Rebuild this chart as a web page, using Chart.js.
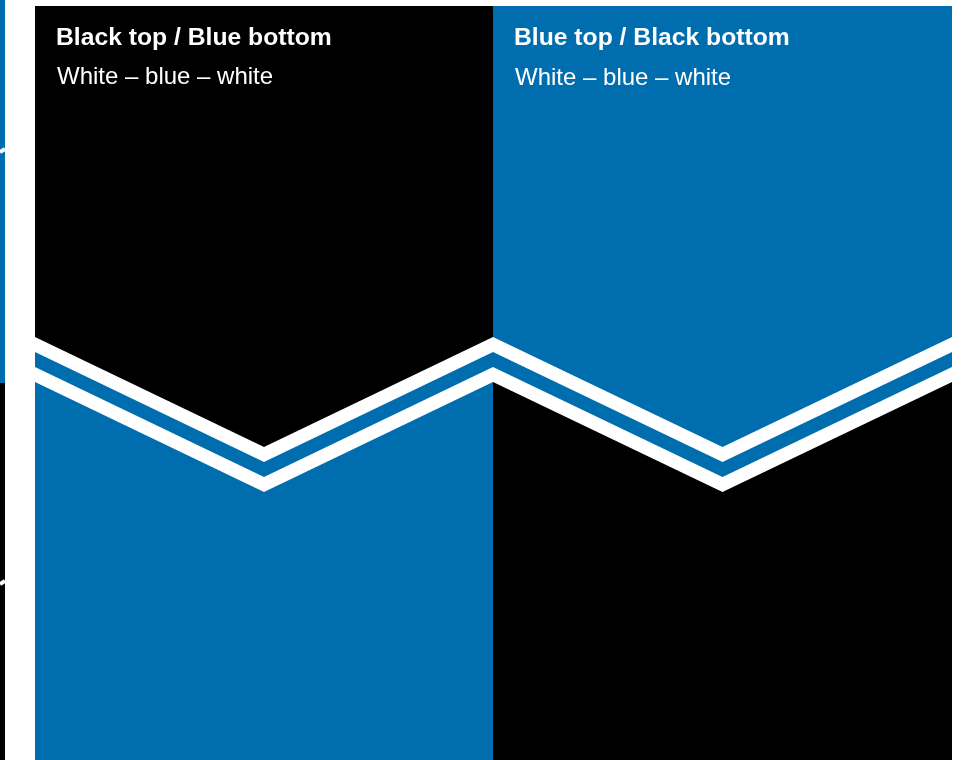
<!DOCTYPE html>
<html>
<head>
<meta charset="utf-8">
<title>Chevron stripe variants</title>
<script src="https://cdn.jsdelivr.net/npm/chart.js@4.4.1/dist/chart.umd.min.js"></script>
<style>
    html, body { margin: 0; padding: 0; background: #ffffff; }
    #wrap { width: 963px; height: 760px; }
</style>
</head>
<body>
<div id="wrap"><canvas id="chevrons" width="963" height="760"></canvas></div>
<script>
// Panel labels
const panelTitles = ['Black top / Blue bottom', 'Blue top / Black bottom'];
const panelSubtitles = ['White – blue – white', 'White – blue – white'];

// Panel boundaries along the x axis (left, middle, right)
const panelEdgesX = [35, 493, 952];
const panelTopY = 6;
const pageBottomY = 760;

// Stripe boundaries: value at the panel sides and at the chevron apex
const chevronEdgeY = [337, 352, 367, 382];
const chevronApexY = [447, 462, 477, 492];

// Cut-off sliver of the previous swatch on the far left
const sideStripX = [0, 5];
const sideStripSplitY = 383;
const sideStripTicksY = [[152, 149], [584, 581]];

const BLUE = '#006DAE';
const BLACK = '#000000';
const WHITE = '#FFFFFF';
const panelTopColors = [BLACK, BLUE];
const panelBottomColors = [BLUE, BLACK];
const stripeColors = [null, WHITE, BLUE, WHITE]; // index 0 is the top colour

function area(points, color, toValue) {
    return {
        data: points,
        backgroundColor: color,
        borderColor: 'rgba(0,0,0,0)',
        borderWidth: 0,
        pointRadius: 0,
        tension: 0,
        fill: { value: toValue }
    };
}

// Layers are built bottom -> top, then reversed so the top layer is drawn last
const layers = [];

// left sliver
layers.push(area([{ x: sideStripX[0], y: sideStripSplitY }, { x: sideStripX[1], y: sideStripSplitY }], BLUE, 0));
layers.push(area([{ x: sideStripX[0], y: pageBottomY }, { x: sideStripX[1], y: pageBottomY }], BLACK, sideStripSplitY));
sideStripTicksY.forEach(t => {
    layers.push({
        data: [{ x: sideStripX[0], y: t[0] }, { x: sideStripX[1], y: t[1] }],
        borderColor: WHITE,
        borderWidth: 4,
        pointRadius: 0,
        fill: false
    });
});

panelTitles.forEach((title, p) => {
    const x0 = panelEdgesX[p];
    const x1 = panelEdgesX[p + 1];
    const xm = (x0 + x1) / 2;
    // whole panel in the bottom colour
    layers.push(area([{ x: x0, y: pageBottomY }, { x: x1, y: pageBottomY }], panelBottomColors[p], panelTopY));
    // each stripe boundary filled up to the panel top, deepest first
    for (let i = chevronEdgeY.length - 1; i >= 0; i--) {
        const color = i === 0 ? panelTopColors[p] : stripeColors[i];
        layers.push(area([
            { x: x0, y: chevronEdgeY[i] },
            { x: xm, y: chevronApexY[i] },
            { x: x1, y: chevronEdgeY[i] }
        ], color, panelTopY));
    }
});

const panelText = {
    id: 'panelText',
    afterDatasetsDraw(chart) {
        const ctx = chart.ctx;
        const xs = chart.scales.x;
        const ys = chart.scales.y;
        ctx.save();
        ctx.fillStyle = WHITE;
        ctx.textBaseline = 'alphabetic';
        ctx.textAlign = 'left';
        panelTitles.forEach((title, p) => {
            const left = xs.getPixelForValue(panelEdgesX[p]) + 21;
            ctx.font = 'bold 24.7px "Liberation Sans", Arial, sans-serif';
            ctx.fillText(title, left, ys.getPixelForValue(45));
            ctx.font = '24px "Liberation Sans", Arial, sans-serif';
            ctx.fillText(panelSubtitles[p], left + 1, ys.getPixelForValue(84 + p));
        });
        ctx.restore();
    }
};

new Chart(document.getElementById('chevrons'), {
    type: 'line',
    data: { datasets: layers.reverse() },
    options: {
        responsive: false,
        animation: false,
        events: [],
        layout: { padding: 0 },
        plugins: {
            legend: { display: false },
            tooltip: { enabled: false },
            title: { display: false }
        },
        scales: {
            x: { type: 'linear', min: 0, max: 963, display: false },
            y: { type: 'linear', min: 0, max: 760, reverse: true, display: false }
        }
    },
    plugins: [panelText]
});
</script>
</body>
</html>
